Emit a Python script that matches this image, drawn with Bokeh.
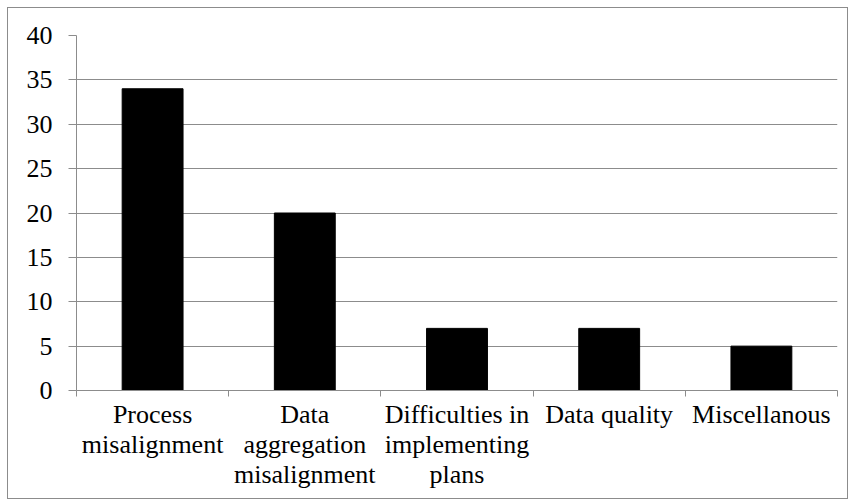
from bokeh.plotting import figure
from bokeh.models import Range1d, FixedTicker
from bokeh.embed import file_html
from bokeh.resources import INLINE

categories = ["Process\nmisalignment", "Data\naggregation\nmisalignment",
              "Difficulties in\nimplementing\nplans", "Data quality", "Miscellanous"]
values = [34, 20, 7, 7, 5]
y_ticks = [0, 5, 10, 15, 20, 25, 30, 35, 40]

n = len(categories)
centers = [i + 0.5 for i in range(n)]
bounds = list(range(n + 1))

FONT = "Liberation Serif"
GRAY = "#8c8c8c"

p = figure(width=841, height=492, output_backend="svg", toolbar_location=None,
           x_range=Range1d(0, n), y_range=Range1d(0, 40),
           min_border_left=68, min_border_top=27, min_border_right=12, min_border_bottom=110)
p.styles = {"border": "1px solid #8c8c8c", "margin-left": "7px", "margin-top": "7px"}
p.outline_line_color = None

p.vbar(x=centers, top=values, width=0.4, fill_color="black", line_color="black")

p.xgrid.visible = False
p.ygrid.grid_line_color = GRAY
p.ygrid.grid_line_width = 1
p.ygrid.ticker = FixedTicker(ticks=y_ticks)

yax = p.yaxis[0]
yax.ticker = FixedTicker(ticks=y_ticks, minor_ticks=[])
yax.axis_line_color = GRAY
yax.major_tick_line_color = GRAY
yax.major_tick_out = 8
yax.major_tick_in = 0
yax.minor_tick_line_color = None
yax.major_label_standoff = 16
yax.major_label_text_font = FONT
yax.major_label_text_font_size = "26px"
yax.major_label_text_color = "black"

xax = p.xaxis[0]
xax.ticker = FixedTicker(ticks=centers, minor_ticks=bounds)
xax.major_label_overrides = {c: lab for c, lab in zip(centers, categories)}
xax.axis_line_color = GRAY
xax.major_tick_line_color = None
xax.major_tick_out = 0
xax.major_tick_in = 0
xax.minor_tick_line_color = GRAY
xax.minor_tick_out = 6
xax.minor_tick_in = 0
xax.major_label_standoff = 3
xax.major_label_text_font = FONT
xax.major_label_text_font_size = "26px"
xax.major_label_text_color = "black"
xax.major_label_text_line_height = 1.04

open("out.html", "w").write(file_html(p, INLINE))
